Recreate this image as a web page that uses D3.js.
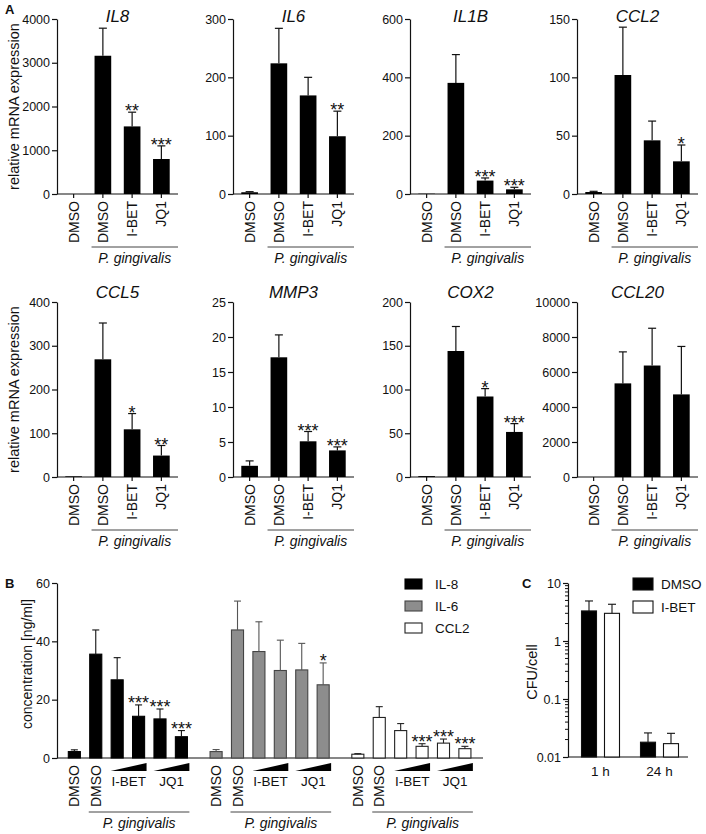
<!DOCTYPE html>
<html><head><meta charset="utf-8">
<script src="https://cdn.jsdelivr.net/npm/d3@7"></script>
<style>
body{margin:0;background:#fff;}
text{font-family:"Liberation Sans",Arial,Helvetica,sans-serif;fill:#111;}
</style></head>
<body>
<script>
// ---------- DATA ----------
// Panel A
const genesA = ["IL8","IL6","IL1B","CCL2","CCL5","MMP3","COX2","CCL20"];
const conditionsA = ["DMSO","DMSO","I-BET","JQ1"];
const meanIL8 = [0, 3160, 1545, 800];    const upperIL8 = [0, 3790, 1870, 1100];  const starsIL8 = ["","","**","***"];
const meanIL6 = [3, 224, 169, 99];        const upperIL6 = [4, 284, 200, 142];     const starsIL6 = ["","","","**"];
const meanIL1B = [1, 381, 46, 16];        const upperIL1B = [1, 478, 55, 23];      const starsIL1B = ["","","***","***"];
const meanCCL2 = [1.7, 102, 46, 28];      const upperCCL2 = [2.3, 143, 62.5, 42];  const starsCCL2 = ["","","","*"];
const meanCCL5 = [1.5, 269, 109, 49];     const upperCCL5 = [1.5, 352, 145, 72];   const starsCCL5 = ["","","*","**"];
const meanMMP3 = [1.6, 17.1, 5.1, 3.8];   const upperMMP3 = [2.3, 20.3, 6.5, 4.3]; const starsMMP3 = ["","","***","***"];
const meanCOX2 = [1, 144, 92, 51.5];      const upperCOX2 = [1, 172, 101, 61];     const starsCOX2 = ["","","*","***"];
const meanCCL20 = [0, 5350, 6370, 4720];  const upperCCL20 = [0, 7150, 8500, 7460]; const starsCCL20 = ["","","",""];
const yMaxA = [4000, 300, 600, 150, 400, 25, 200, 10000];
const tickStepA = [1000, 100, 200, 50, 100, 5, 50, 2000];

// Panel B
const groupsB = ["IL-8","IL-6","CCL2"];
const conditionsB = ["DMSO","DMSO","I-BET low","I-BET high","JQ1 low","JQ1 high"];
const meanIL8B = [2.2, 35.6, 26.8, 14.3, 13.4, 7.3];   const upperIL8B = [2.8, 43.9, 34.4, 18.2, 16.8, 9.4];  const starsIL8B = ["","","","***","***","***"];
const meanIL6B = [2.2, 43.9, 36.5, 30.0, 30.2, 25.1];  const upperIL6B = [2.9, 53.8, 46.7, 40.4, 39.3, 32.6]; const starsIL6B = ["","","","","","*"];
const meanCCL2B = [1.3, 13.9, 9.4, 4.0, 5.1, 3.2];     const upperCCL2B = [1.5, 17.6, 11.8, 4.9, 6.5, 4.0];   const starsCCL2B = ["","","","***","***","***"];
const ticksB = [0, 20, 40, 60];

// Panel C
const timesC = ["1 h","24 h"];
const seriesC = ["DMSO","I-BET"];
const meanDMSOC = [3.3, 0.018];  const upperDMSOC = [4.9, 0.026];
const meanIBETC = [3.0, 0.017];  const upperIBETC = [4.3, 0.0256];
const ticksC = [0.01, 0.1, 1, 10];

// ---------- DRAW ----------
const svg = d3.select("body").append("svg").attr("width",706).attr("height",834);
const INK = "#111";
const SW = 1.2;
const STAR = "18px";

function styleAxis(g){
  g.selectAll("path.domain").attr("stroke",INK).attr("stroke-width",SW);
  g.selectAll(".tick line").attr("stroke",INK).attr("stroke-width",SW);
  g.selectAll(".tick text").attr("fill",INK).style("font-size","12.5px").style("font-family","'Liberation Sans',Arial,sans-serif");
}

// Panel A
const axisXA = [57, 233, 410, 577];
const zeroYA = [194, 477];
const topYA = [19, 302];
const titleYA = [22, 298];
const dataA = [
  [meanIL8, upperIL8, starsIL8], [meanIL6, upperIL6, starsIL6],
  [meanIL1B, upperIL1B, starsIL1B], [meanCCL2, upperCCL2, starsCCL2],
  [meanCCL5, upperCCL5, starsCCL5], [meanMMP3, upperMMP3, starsMMP3],
  [meanCOX2, upperCOX2, starsCOX2], [meanCCL20, upperCCL20, starsCCL20]
];

genesA.forEach((gene, i) => {
  const col = i % 4, row = Math.floor(i / 4);
  const x0 = axisXA[col], zeroY = zeroYA[row], topY = topYA[row];
  const [means, uppers, stars] = dataA[i];
  const g = svg.append("g");
  const y = d3.scaleLinear().domain([0, yMaxA[i]]).range([zeroY, topY]);
  const x = d3.scaleBand().domain(d3.range(conditionsA.length)).range([x0 + 2, x0 + 119])
    .paddingInner(0.43).paddingOuter(0.215);
  const bw = x.bandwidth();

  const ya = g.append("g").attr("transform", `translate(${x0},0)`)
    .call(d3.axisLeft(y).tickValues(d3.range(0, yMaxA[i] + 1e-9, tickStepA[i]))
      .tickSize(5).tickSizeOuter(0).tickPadding(2).tickFormat(d3.format("d")));
  styleAxis(ya);

  g.append("line").attr("x1", x0).attr("x2", x0 + 121).attr("y1", zeroY).attr("y2", zeroY)
    .attr("stroke", INK).attr("stroke-width", SW);
  g.selectAll("line.xt").data(conditionsA).join("line").attr("class","xt")
    .attr("x1", (d, j) => x(j) + bw / 2).attr("x2", (d, j) => x(j) + bw / 2)
    .attr("y1", zeroY).attr("y2", zeroY + 4).attr("stroke", INK).attr("stroke-width", SW);

  g.selectAll("rect.bar").data(means).join("rect").attr("class","bar")
    .attr("x", (d, j) => x(j)).attr("width", bw)
    .attr("y", d => y(d)).attr("height", d => zeroY - y(d))
    .attr("fill", "#000");

  means.forEach((m, j) => {
    const u = uppers[j];
    const cx = x(j) + bw / 2;
    if (u > m) {
      g.append("line").attr("x1", cx).attr("x2", cx).attr("y1", y(m)).attr("y2", y(u))
        .attr("stroke", INK).attr("stroke-width", SW);
      g.append("line").attr("x1", cx - 4).attr("x2", cx + 4).attr("y1", y(u)).attr("y2", y(u))
        .attr("stroke", INK).attr("stroke-width", SW);
    }
    if (stars[j]) {
      g.append("text").attr("x", cx).attr("y", y(u) + 5).attr("text-anchor", "middle")
        .style("font-size", STAR).text(stars[j]);
    }
  });

  g.selectAll("text.cat").data(conditionsA).join("text").attr("class","cat")
    .attr("transform", (d, j) => `translate(${x(j) + bw / 2},${zeroY + 7}) rotate(-90)`)
    .attr("text-anchor", "end").attr("dominant-baseline", "central")
    .style("font-size", "14px").text(d => d);

  const lx1 = x(1) - 3, lx2 = x0 + 121;
  g.append("line").attr("x1", lx1).attr("x2", lx2).attr("y1", zeroY + 53).attr("y2", zeroY + 53)
    .attr("stroke", "#444").attr("stroke-width", 1);
  g.append("text").attr("x", (lx1 + lx2) / 2).attr("y", zeroY + 69).attr("text-anchor", "middle")
    .style("font-size", "14px").style("font-style", "italic").text("P. gingivalis");

  g.append("text").attr("x", x0 + 60.5).attr("y", titleYA[row]).attr("text-anchor", "middle")
    .style("font-size", "17px").style("font-style", "italic").text(gene);

  if (col === 0) {
    g.append("text").attr("transform", `translate(19,${(zeroY + topY) / 2}) rotate(-90)`)
      .attr("text-anchor", "middle").style("font-size", "14.5px").text("relative mRNA expression");
  }
});

svg.append("text").attr("x", 5).attr("y", 14).style("font-size", "13px").style("font-weight", "bold").text("A");

// Panel B
(function(){
  const x0 = 57, zeroY = 758, topY = 583;
  const g = svg.append("g");
  const y = d3.scaleLinear().domain([0, 60]).range([zeroY, topY]);
  const xg = d3.scaleBand().domain(groupsB).range([x0, x0 + 425.25]).padding(0);
  const xi = d3.scaleBand().domain(d3.range(conditionsB.length)).range([0, xg.bandwidth()])
    .paddingInner(0.39).paddingOuter(0.505);
  const bw = xi.bandwidth();
  const ya = g.append("g").attr("transform", `translate(${x0},0)`)
    .call(d3.axisLeft(y).tickValues(ticksB).tickSize(5).tickSizeOuter(0).tickPadding(2));
  styleAxis(ya);
  g.append("line").attr("x1", x0).attr("x2", x0 + 426).attr("y1", zeroY).attr("y2", zeroY)
    .attr("stroke", INK).attr("stroke-width", SW);

  const sets = [[meanIL8B, upperIL8B, starsIL8B], [meanIL6B, upperIL6B, starsIL6B], [meanCCL2B, upperCCL2B, starsCCL2B]];
  const fills = ["#000", "#8d8d8d", "#fff"];
  const strokes = ["#000", "#444", "#222"];
  const errCols = ["#111", "#555", "#222"];

  groupsB.forEach((grp, k) => {
    const gx = xg(grp);
    const [means, uppers, stars] = sets[k];
    const cx = j => gx + xi(j) + bw / 2;
    g.selectAll(null).data(means).join("rect")
      .attr("x", (d, j) => gx + xi(j) + 0.5).attr("width", bw - 1)
      .attr("y", d => y(d)).attr("height", d => zeroY - y(d))
      .attr("fill", fills[k]).attr("stroke", strokes[k]).attr("stroke-width", 1.1);
    means.forEach((m, j) => {
      const u = uppers[j];
      if (u > m) {
        g.append("line").attr("x1", cx(j)).attr("x2", cx(j)).attr("y1", y(m)).attr("y2", y(u))
          .attr("stroke", errCols[k]).attr("stroke-width", 1.1);
        g.append("line").attr("x1", cx(j) - 3.5).attr("x2", cx(j) + 3.5).attr("y1", y(u)).attr("y2", y(u))
          .attr("stroke", errCols[k]).attr("stroke-width", 1.1);
      }
      if (stars[j]) {
        g.append("text").attr("x", cx(j)).attr("y", y(u) + 4).attr("text-anchor", "middle")
          .style("font-size", STAR).text(stars[j]);
      }
    });
    [0, 1].forEach(j => {
      g.append("text").attr("transform", `translate(${cx(j)},${zeroY + 7}) rotate(-90)`)
        .attr("text-anchor", "end").attr("dominant-baseline", "central")
        .style("font-size", "14px").text(conditionsB[j]);
    });
    [[2, 3, "I-BET"], [4, 5, "JQ1"]].forEach(([a, b, lab]) => {
      const left = cx(a) - 6.5, right = cx(b) + 8;
      g.append("path").attr("d", `M${left},${zeroY + 13}L${right},${zeroY + 5}L${right},${zeroY + 13}Z`)
        .attr("fill", "#000");
      g.append("text").attr("x", (cx(a) + cx(b)) / 2 + 1).attr("y", zeroY + 28).attr("text-anchor", "middle")
        .style("font-size", "13.5px").text(lab);
    });
    const lx1 = cx(1) - 7, lx2 = cx(5) + 8;
    g.append("line").attr("x1", lx1).attr("x2", lx2).attr("y1", zeroY + 54).attr("y2", zeroY + 54)
      .attr("stroke", "#444").attr("stroke-width", 1);
    g.append("text").attr("x", (lx1 + lx2) / 2).attr("y", zeroY + 70).attr("text-anchor", "middle")
      .style("font-size", "14px").style("font-style", "italic").text("P. gingivalis");
  });

  g.append("text").attr("transform", `translate(27,${664}) rotate(-90)`).attr("text-anchor", "middle")
    .attr("dominant-baseline", "central").style("font-size", "14px").text("concentration [ng/ml]");

  const lg = g.append("g");
  groupsB.forEach((grp, k) => {
    const ly = 584 + k * 22;
    lg.append("rect").attr("x", 405).attr("y", ly - 5).attr("width", 17).attr("height", 10)
      .attr("fill", fills[k]).attr("stroke", strokes[k]).attr("stroke-width", 1.1);
    lg.append("text").attr("x", 435).attr("y", ly).attr("dominant-baseline", "central")
      .style("font-size", "13.5px").text(grp);
  });
  svg.append("text").attr("x", 5).attr("y", 588).style("font-size", "13px").style("font-weight", "bold").text("B");
})();

// Panel C
(function(){
  const x0 = 568, zeroY = 757, topY = 583;
  const g = svg.append("g");
  const y = d3.scaleLog().domain([0.01, 10]).range([zeroY, topY]);
  const xg = d3.scaleBand().domain(timesC).range([x0 + 3, x0 + 121]).padding(0);
  const xi = d3.scaleBand().domain(seriesC).range([0, xg.bandwidth()]).paddingInner(0.304).paddingOuter(0.435);
  const bw = xi.bandwidth();
  const minor = [];
  ticksC.slice(0, 3).forEach(t => { for (let m = 2; m <= 9; m++) minor.push(t * m); });
  g.selectAll("line.minor").data(minor).join("line").attr("class","minor")
    .attr("x1", x0 - 3).attr("x2", x0).attr("y1", d => y(d)).attr("y2", d => y(d))
    .attr("stroke", INK).attr("stroke-width", 1);
  const ya = g.append("g").attr("transform", `translate(${x0},0)`)
    .call(d3.axisLeft(y).tickValues(ticksC).tickSize(5).tickSizeOuter(0).tickPadding(2).tickFormat(d => String(d)));
  styleAxis(ya);
  g.append("line").attr("x1", x0).attr("x2", x0 + 120).attr("y1", zeroY).attr("y2", zeroY)
    .attr("stroke", INK).attr("stroke-width", SW);

  const sets = [[meanDMSOC, upperDMSOC], [meanIBETC, upperIBETC]];
  const fills = ["#000", "#fff"];
  seriesC.forEach((s, k) => {
    const [means, uppers] = sets[k];
    timesC.forEach((t, j) => {
      const bx = xg(t) + xi(s);
      const cx = bx + bw / 2;
      g.append("rect").attr("x", bx + 0.5).attr("width", bw - 1).attr("y", y(means[j]))
        .attr("height", zeroY - y(means[j])).attr("fill", fills[k]).attr("stroke", "#111").attr("stroke-width", 1.1);
      g.append("line").attr("x1", cx).attr("x2", cx).attr("y1", y(means[j])).attr("y2", y(uppers[j]))
        .attr("stroke", INK).attr("stroke-width", 1.1);
      g.append("line").attr("x1", cx - 4).attr("x2", cx + 4).attr("y1", y(uppers[j])).attr("y2", y(uppers[j]))
        .attr("stroke", INK).attr("stroke-width", 1.1);
    });
  });
  timesC.forEach(t => {
    g.append("text").attr("x", xg(t) + xg.bandwidth() / 2).attr("y", 776).attr("text-anchor", "middle")
      .style("font-size", "13.5px").text(t);
  });
  g.append("text").attr("transform", `translate(532,672) rotate(-90)`).attr("text-anchor", "middle")
    .attr("dominant-baseline", "central").style("font-size", "14.5px").text("CFU/cell");
  seriesC.forEach((s, k) => {
    const ly = 584 + k * 23;
    g.append("rect").attr("x", 633).attr("y", ly - 6).attr("width", 20).attr("height", 12)
      .attr("fill", fills[k]).attr("stroke", "#111").attr("stroke-width", 1.1);
    g.append("text").attr("x", 661).attr("y", ly).attr("dominant-baseline", "central")
      .style("font-size", "13.5px").text(s);
  });
  svg.append("text").attr("x", 522).attr("y", 588).style("font-size", "13px").style("font-weight", "bold").text("C");
})();
</script>
</body></html>
